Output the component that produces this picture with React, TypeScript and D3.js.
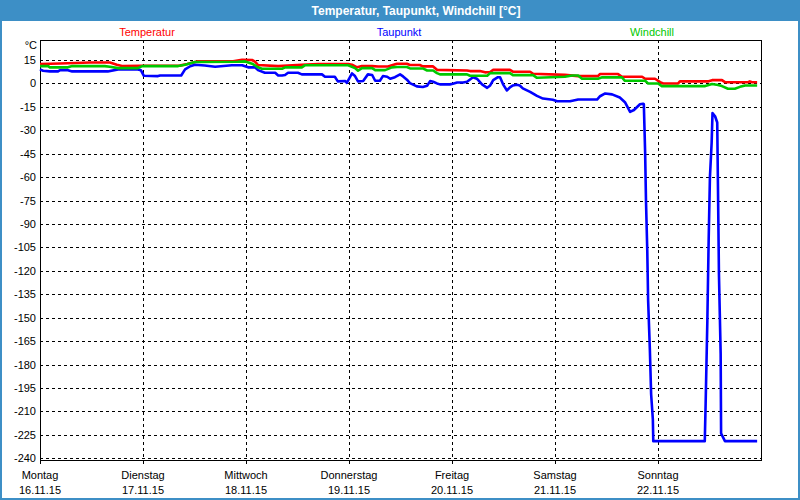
import React, { useRef, useEffect } from 'react';
import * as d3 from 'd3';

// day labels along the bottom
const dayNames = ['Montag', 'Dienstag', 'Mittwoch', 'Donnerstag', 'Freitag', 'Samstag', 'Sonntag'];
const dayDates = ['16.11.15', '17.11.15', '18.11.15', '19.11.15', '20.11.15', '21.11.15', '22.11.15'];
const dayHours = [0, 24, 48, 72, 96, 120, 144];

const yTicks = [15, 0, -15, -30, -45, -60, -75, -90, -105, -120, -135, -150, -165, -180, -195, -210, -225, -240];

// hours since Monday 00:00, value in °C
const tempHours = [0, 4.7, 11.7, 16.3, 17.9, 19.1, 23.3, 32.6, 34.3, 36.6, 45.0, 47.1, 49.4, 50.1, 50.8, 55.5, 61.0, 64.8, 71.8, 72.7, 73.9, 75.0, 77.4, 78.8, 81.1, 82.0, 83.2, 85.5, 86.2, 88.5, 89.2, 91.6, 92.5, 99.5, 100.2, 102.5, 103.7, 104.9, 105.6, 109.5, 110.2, 114.2, 114.9, 122.3, 125.4, 130.0, 130.5, 134.7, 135.6, 140.3, 141.0, 143.3, 144.5, 145.2, 148.7, 149.1, 155.6, 156.6, 158.9, 159.6, 165.0, 165.4, 165.9, 167.1];
const tempValues = [12.4, 12.8, 13.4, 13.4, 12.0, 11.2, 11.3, 11.4, 12.4, 14.1, 14.2, 15.2, 15.0, 14.0, 11.8, 11.1, 11.9, 12.4, 12.4, 12.0, 10.3, 11.1, 11.1, 10.8, 10.8, 11.6, 12.6, 12.6, 11.8, 11.8, 10.9, 10.9, 8.7, 8.3, 7.9, 7.9, 7.1, 7.3, 8.7, 8.7, 7.5, 7.5, 6.2, 5.5, 4.7, 4.7, 6.0, 6.0, 4.3, 4.3, 3.0, 3.0, 0.8, 0.0, 0.0, 1.3, 1.3, 2.1, 2.1, 0.8, 0.8, 1.3, 0.8, 0.8];

const dewHours = [0, 0.7, 2.3, 4.2, 4.7, 6.5, 7.5, 15.8, 18.2, 22.8, 23.5, 24.2, 27.5, 28.0, 32.9, 33.8, 35.0, 36.1, 38.4, 40.8, 44.7, 47.1, 48.5, 50.1, 50.8, 52.4, 54.8, 55.5, 56.4, 57.1, 57.8, 60.1, 61.0, 65.7, 66.4, 68.7, 69.4, 71.1, 71.5, 72.7, 73.4, 74.1, 75.3, 76.4, 77.4, 78.1, 79.2, 79.9, 80.9, 81.6, 82.7, 83.9, 84.6, 85.5, 86.2, 87.8, 89.2, 90.2, 90.9, 91.6, 92.5, 93.2, 95.5, 96.2, 97.2, 98.6, 99.5, 100.9, 101.8, 103.0, 104.2, 104.9, 105.6, 106.7, 107.2, 107.9, 108.8, 109.5, 110.2, 111.1, 111.8, 112.5, 114.2, 115.8, 117.2, 119.5, 120.5, 123.5, 125.4, 129.8, 130.5, 131.7, 133.3, 135.1, 136.3, 137.5, 138.4, 139.8, 140.5, 140.7, 141.0, 141.2, 141.5, 141.7, 142.1, 142.4, 142.8, 142.9, 154.9, 155.1, 155.5, 155.8, 156.1, 156.5, 156.7, 157.3, 157.8, 158.0, 158.2, 158.6, 158.7, 159.6, 167.1];
const dewValues = [9.0, 8.1, 7.7, 7.7, 8.5, 8.5, 7.7, 7.7, 9.0, 9.0, 8.5, 4.9, 4.7, 5.1, 5.1, 9.0, 11.0, 12.0, 11.5, 10.7, 11.6, 11.6, 10.3, 10.3, 8.5, 6.8, 6.8, 5.1, 5.1, 5.4, 6.8, 6.8, 5.8, 5.8, 4.3, 4.3, 1.3, 1.6, 0.4, 6.4, 4.7, 1.3, 1.6, 5.8, 5.4, 1.7, 1.7, 4.7, 4.3, 3.0, 4.0, 5.8, 4.5, 2.4, 0.2, -1.9, -2.3, -1.5, 1.5, 1.1, 0.0, -0.6, -0.6, -0.2, 0.6, 0.6, 1.1, 4.0, 3.0, -0.6, -2.8, -1.3, 2.1, 4.0, 4.0, -0.6, -4.5, -2.5, -1.3, -0.9, -1.3, -3.2, -5.4, -8.0, -9.7, -10.5, -11.4, -11.4, -10.3, -10.3, -8.2, -6.4, -7.0, -9.0, -12.0, -18.2, -17.0, -13.3, -13.0, -13.3, -44, -75, -107, -139, -170, -199, -215, -229, -229, -205, -152, -101, -60, -38, -19, -21, -25, -73, -122, -173, -224, -229, -229];

const chillHours = [0, 1.9, 2.3, 6.5, 7.5, 15.1, 16.3, 18.2, 22.8, 23.8, 32.2, 33.8, 36.1, 46.1, 47.8, 49.6, 50.8, 51.7, 56.4, 57.1, 61.0, 61.7, 71.8, 73.4, 74.1, 75.0, 77.4, 78.1, 80.4, 82.0, 83.2, 85.5, 86.2, 89.2, 90.2, 91.6, 92.5, 93.2, 99.5, 100.2, 104.2, 104.9, 109.5, 110.2, 114.9, 115.8, 122.3, 124.0, 125.4, 126.3, 130.0, 131.0, 135.6, 136.3, 141.0, 141.7, 144.0, 144.9, 155.0, 156.6, 158.0, 158.9, 160.3, 161.9, 163.1, 164.3, 167.1];
const chillValues = [11.1, 11.1, 10.3, 10.3, 11.1, 11.1, 10.7, 9.8, 9.8, 11.1, 11.1, 11.9, 13.7, 13.9, 14.1, 12.4, 10.3, 9.4, 9.4, 10.3, 10.3, 11.6, 11.6, 9.8, 8.1, 9.8, 9.8, 8.5, 8.5, 10.3, 10.5, 10.5, 9.6, 9.6, 8.3, 8.3, 6.6, 5.8, 5.8, 4.9, 4.9, 6.6, 6.6, 5.3, 5.3, 3.6, 4.3, 5.1, 5.1, 3.0, 3.0, 3.9, 3.9, 1.7, 1.7, 0.0, 0.0, -1.7, -1.7, -0.4, -1.0, -1.7, -3.4, -3.4, -2.2, -1.3, -1.3];

const series = [
  { name: 'Temperatur', color: '#ff0000', hours: tempHours, values: tempValues, labelX: 147 },
  { name: 'Taupunkt', color: '#0000ff', hours: dewHours, values: dewValues, labelX: 399 },
  { name: 'Windchill', color: '#00c800', hours: chillHours, values: chillValues, labelX: 652 },
];

const font = '"Liberation Sans", Arial, sans-serif';

const App = () => {
  const svgRef = useRef(null);

  useEffect(() => {
    document.body.style.margin = '0';
    const svg = d3.select(svgRef.current);
    svg.selectAll('*').remove();

    const left = 40, right = 761, top = 40, bottom = 460;
    const x = d3.scaleLinear().domain([0, 168]).range([left, right]);
    const y = d3.scaleLinear().domain([-240, 15]).range([458.3, 60]);

    // window frame
    svg.append('rect').attr('width', 800).attr('height', 500).attr('fill', '#fff');
    svg.append('rect').attr('width', 800).attr('height', 21).attr('fill', '#3d8fc6');
    svg.append('rect').attr('x', 0).attr('width', 2).attr('height', 500).attr('fill', '#3d8fc6');
    svg.append('rect').attr('x', 798).attr('width', 2).attr('height', 500).attr('fill', '#3d8fc6');
    svg.append('rect').attr('y', 498).attr('width', 800).attr('height', 2).attr('fill', '#3d8fc6');
    svg
      .append('text')
      .attr('x', 416)
      .attr('y', 14.5)
      .attr('text-anchor', 'middle')
      .attr('fill', '#fff')
      .style('font', `bold 12px ${font}`)
      .text('Temperatur, Taupunkt, Windchill [°C]');

    // legend
    svg
      .selectAll('.legend')
      .data(series)
      .join('text')
      .attr('class', 'legend')
      .attr('x', (d) => d.labelX)
      .attr('y', 36)
      .attr('text-anchor', 'middle')
      .attr('fill', (d) => d.color)
      .style('font', `11px ${font}`)
      .text((d) => d.name);

    // grid
    const grid = svg.append('g').attr('stroke', '#000').attr('stroke-dasharray', '3,3').attr('shape-rendering', 'crispEdges');
    grid
      .selectAll('line.h')
      .data(yTicks)
      .join('line')
      .attr('class', 'h')
      .attr('x1', left)
      .attr('x2', right)
      .attr('y1', (d) => Math.round(y(d)) + 0.5)
      .attr('y2', (d) => Math.round(y(d)) + 0.5);
    grid
      .selectAll('line.v')
      .data(dayHours.slice(1))
      .join('line')
      .attr('class', 'v')
      .attr('x1', (d) => Math.round(x(d)) + 0.5)
      .attr('x2', (d) => Math.round(x(d)) + 0.5)
      .attr('y1', top)
      .attr('y2', bottom);

    // plot box + day ticks
    svg
      .append('rect')
      .attr('x', left + 0.5)
      .attr('y', top + 0.5)
      .attr('width', right - left)
      .attr('height', bottom - top)
      .attr('fill', 'none')
      .attr('stroke', '#000')
      .attr('shape-rendering', 'crispEdges');
    svg
      .selectAll('line.tick')
      .data(dayHours)
      .join('line')
      .attr('class', 'tick')
      .attr('x1', (d) => Math.round(x(d)) + 0.5)
      .attr('x2', (d) => Math.round(x(d)) + 0.5)
      .attr('y1', bottom)
      .attr('y2', bottom + 4)
      .attr('stroke', '#000')
      .attr('shape-rendering', 'crispEdges');

    // y labels
    svg
      .selectAll('text.ylab')
      .data(yTicks)
      .join('text')
      .attr('class', 'ylab')
      .attr('x', 36)
      .attr('y', (d) => y(d) + 4)
      .attr('text-anchor', 'end')
      .style('font', `11px ${font}`)
      .text((d) => d);
    svg
      .append('text')
      .attr('x', 37)
      .attr('y', 49)
      .attr('text-anchor', 'end')
      .style('font', `11px ${font}`)
      .text('°C');

    // x labels
    const xl = svg
      .selectAll('g.xlab')
      .data(dayHours)
      .join('g')
      .attr('class', 'xlab')
      .attr('transform', (d) => `translate(${x(d)},0)`)
      .style('font', `11px ${font}`)
      .attr('text-anchor', 'middle');
    xl.append('text').attr('y', 479).text((d, i) => dayNames[i]);
    xl.append('text').attr('y', 494).text((d, i) => dayDates[i]);

    // lines
    const drawOrder = [series[0], series[1], series[2]];
    drawOrder.forEach((s) => {
      const pts = s.hours.map((h, i) => [h, s.values[i]] as [number, number]);
      const ln = d3
        .line<[number, number]>()
        .x((d) => x(d[0]))
        .y((d) => y(d[1]));
      svg
        .append('path')
        .datum(pts)
        .attr('d', ln)
        .attr('fill', 'none')
        .attr('stroke', s.color)
        .attr('stroke-width', 2.6)
        .attr('stroke-linejoin', 'round');
    });
  }, []);

  return <svg ref={svgRef} width={800} height={500} style={{ display: 'block' }} />;
};

export default App;
